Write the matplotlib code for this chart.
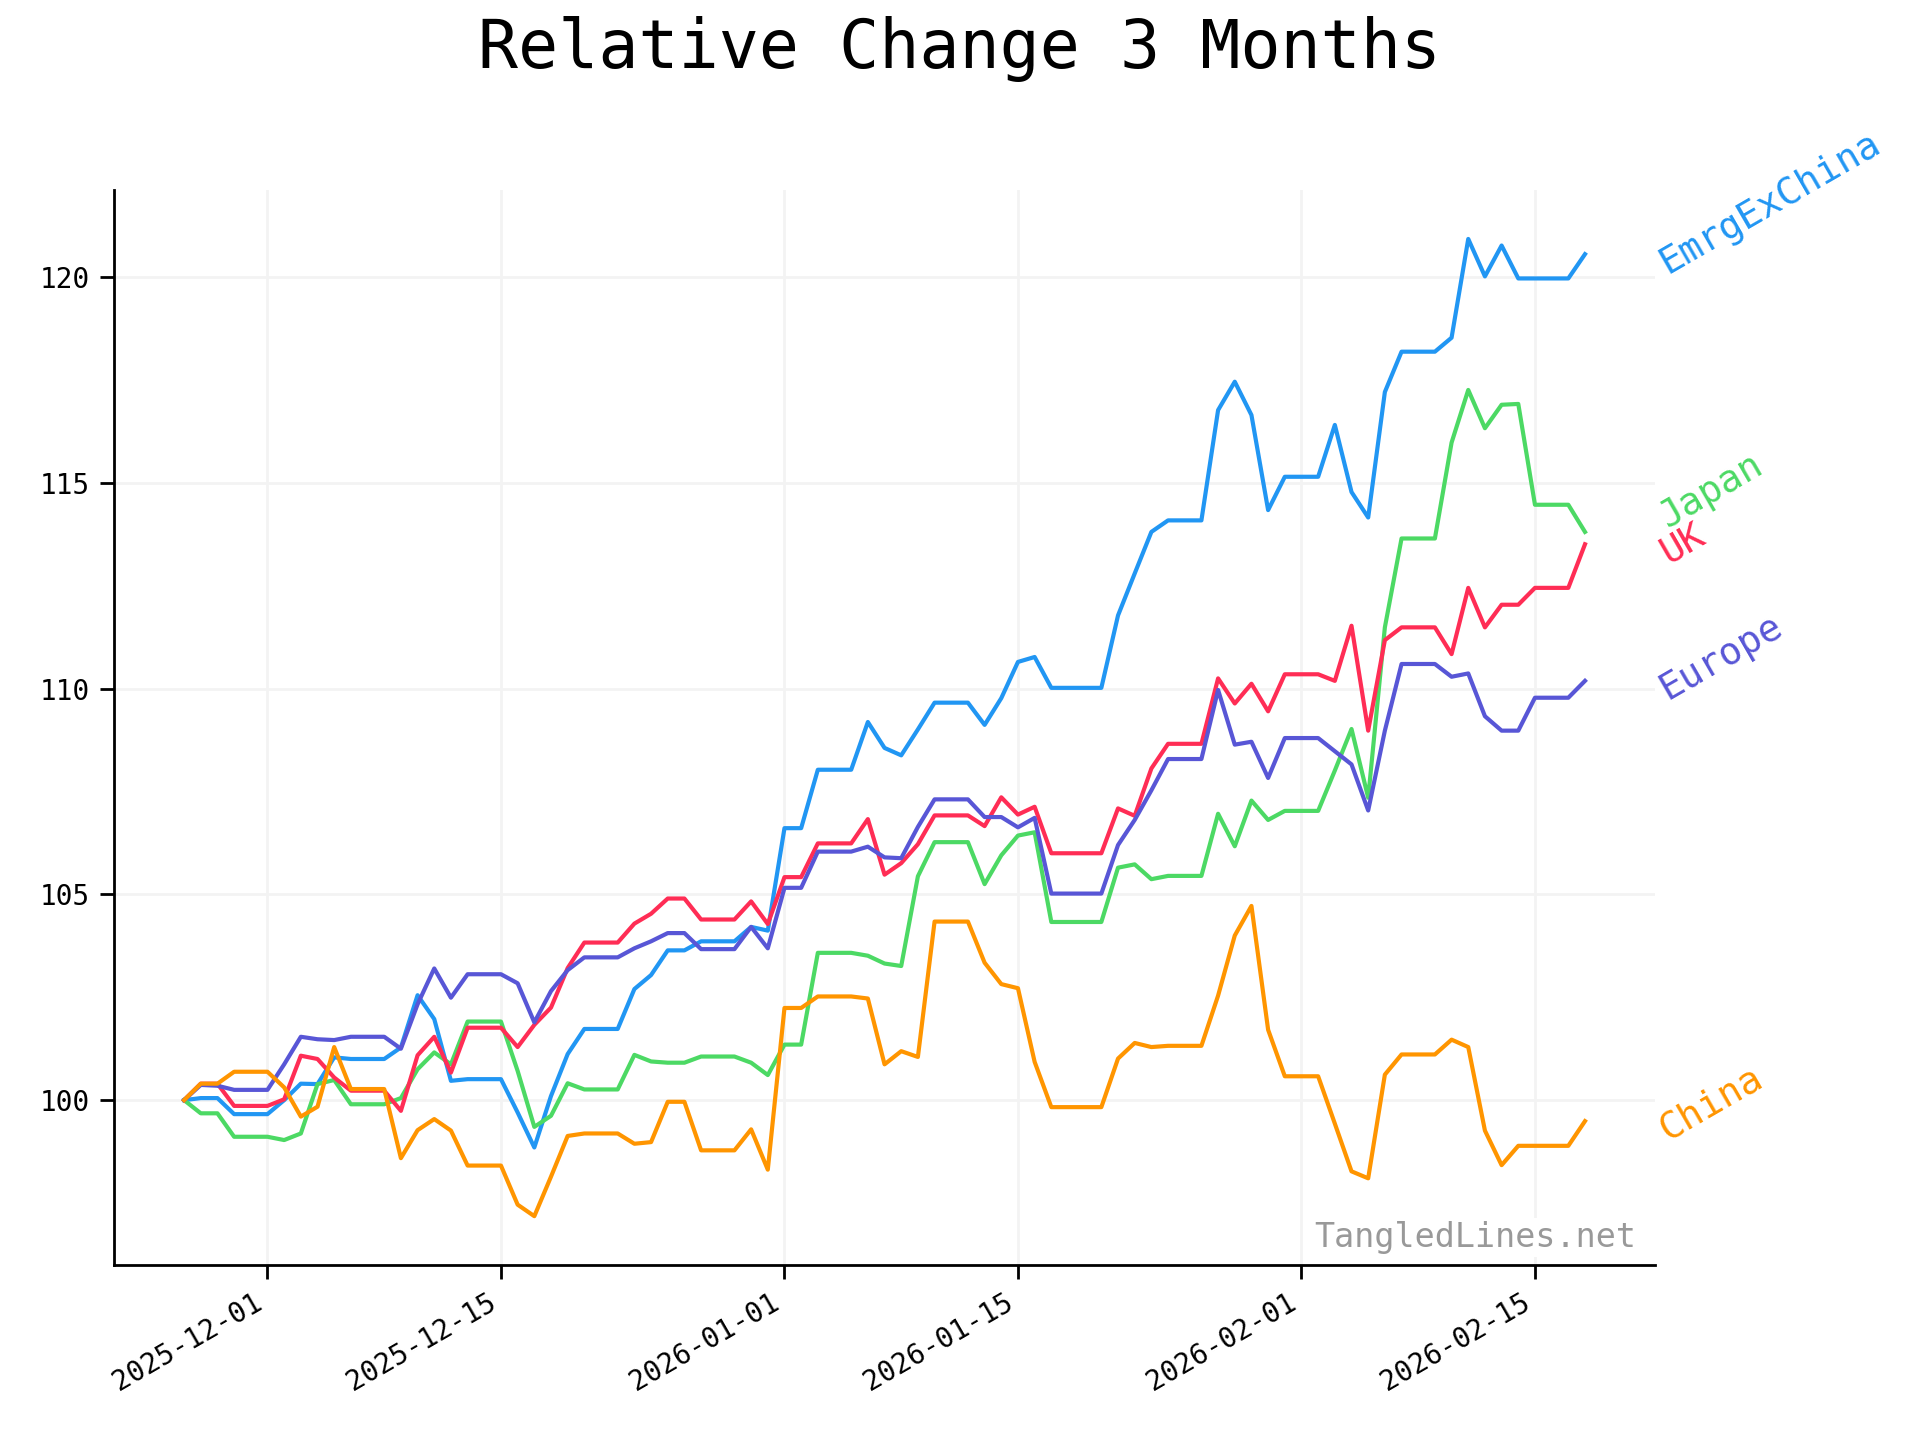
import numpy as np
import pandas as pd
import matplotlib
matplotlib.use("Agg")
import matplotlib.pyplot as plt
import matplotlib.dates as mdates
import matplotlib.transforms as mtransforms

plt.rcParams['font.family'] = ['DejaVu Sans Mono']

dates = pd.date_range('2025-11-26', '2026-02-18', freq='D')

emrg_ex_china = [100.0, 100.05, 100.05, 99.66, 99.66, 99.66, 100.0, 100.40, 100.39, 101.04,
                 101.0, 101.0, 101.0, 101.28, 102.55, 101.97, 100.47, 100.51, 100.51, 100.51,
                 99.70, 98.85, 100.1, 101.12, 101.73, 101.73, 101.73, 102.70, 103.04, 103.64,
                 103.64, 103.86, 103.86, 103.86, 104.21, 104.12, 106.61, 106.61, 108.03, 108.03,
                 108.03, 109.19, 108.56, 108.38, 109.01, 109.66, 109.66, 109.66, 109.12, 109.77,
                 110.65, 110.77, 110.02, 110.02, 110.02, 110.02, 111.78, 112.80, 113.81, 114.09,
                 114.09, 114.09, 116.77, 117.46, 116.65, 114.34, 115.15, 115.15, 115.15, 116.41,
                 114.78, 114.16, 117.21, 118.19, 118.19, 118.19, 118.53, 120.93, 120.02, 120.77,
                 119.97, 119.97, 119.97, 119.97, 120.56]

japan = [100.0, 99.68, 99.68, 99.11, 99.11, 99.11, 99.03, 99.19, 100.39, 100.49,
         99.90, 99.90, 99.90, 100.05, 100.75, 101.16, 100.87, 101.91, 101.91, 101.91,
         100.71, 99.35, 99.62, 100.41, 100.26, 100.26, 100.26, 101.10, 100.94, 100.91,
         100.91, 101.06, 101.06, 101.06, 100.91, 100.61, 101.35, 101.35, 103.58, 103.58,
         103.58, 103.51, 103.32, 103.26, 105.44, 106.27, 106.27, 106.27, 105.25, 105.95,
         106.43, 106.51, 104.33, 104.33, 104.33, 104.33, 105.65, 105.73, 105.37, 105.45,
         105.45, 105.45, 106.96, 106.17, 107.28, 106.81, 107.03, 107.03, 107.03, 108.01,
         109.02, 107.35, 111.49, 113.65, 113.65, 113.65, 115.98, 117.26, 116.33, 116.90,
         116.92, 114.47, 114.47, 114.47, 113.81]

uk = [100.0, 100.4, 100.4, 99.86, 99.86, 99.86, 100.02, 101.08, 101.0, 100.55,
      100.23, 100.23, 100.23, 99.74, 101.09, 101.54, 100.67, 101.76, 101.76, 101.76,
      101.29, 101.83, 102.25, 103.21, 103.83, 103.83, 103.83, 104.29, 104.53, 104.90,
      104.90, 104.39, 104.39, 104.39, 104.83, 104.28, 105.42, 105.42, 106.24, 106.24,
      106.24, 106.83, 105.48, 105.76, 106.22, 106.92, 106.92, 106.92, 106.66, 107.36,
      106.94, 107.13, 106.0, 106.0, 106.0, 106.0, 107.09, 106.91, 108.06, 108.66,
      108.66, 108.66, 110.25, 109.64, 110.12, 109.45, 110.35, 110.35, 110.35, 110.19,
      111.53, 108.98, 111.18, 111.49, 111.49, 111.49, 110.84, 112.45, 111.49, 112.04,
      112.04, 112.45, 112.45, 112.45, 113.51]

europe = [100.0, 100.37, 100.35, 100.25, 100.25, 100.25, 100.87, 101.54, 101.48, 101.46,
          101.54, 101.54, 101.54, 101.25, 102.33, 103.2, 102.49, 103.06, 103.06, 103.06,
          102.84, 101.89, 102.65, 103.16, 103.47, 103.47, 103.47, 103.69, 103.86, 104.06,
          104.06, 103.67, 103.67, 103.67, 104.21, 103.69, 105.16, 105.16, 106.04, 106.04,
          106.04, 106.16, 105.90, 105.88, 106.64, 107.31, 107.31, 107.31, 106.88, 106.88,
          106.63, 106.86, 105.02, 105.02, 105.02, 105.02, 106.2, 106.81, 107.53, 108.29,
          108.29, 108.29, 109.97, 108.64, 108.71, 107.83, 108.80, 108.80, 108.80, 108.48,
          108.16, 107.04, 108.98, 110.60, 110.60, 110.60, 110.29, 110.37, 109.33, 108.98,
          108.98, 109.78, 109.78, 109.78, 110.19]

china = [100.0, 100.4, 100.4, 100.69, 100.69, 100.69, 100.31, 99.6, 99.84, 101.29,
         100.27, 100.27, 100.27, 98.59, 99.27, 99.54, 99.26, 98.41, 98.41, 98.41,
         97.46, 97.18, 98.14, 99.13, 99.19, 99.19, 99.19, 98.94, 98.98, 99.96,
         99.96, 98.78, 98.78, 98.78, 99.29, 98.31, 102.24, 102.24, 102.52, 102.52,
         102.52, 102.47, 100.87, 101.19, 101.05, 104.34, 104.34, 104.34, 103.34, 102.82,
         102.72, 100.93, 99.83, 99.83, 99.83, 99.83, 101.01, 101.39, 101.29, 101.32,
         101.32, 101.32, 102.54, 104.0, 104.72, 101.71, 100.58, 100.58, 100.58, 99.43,
         98.27, 98.10, 100.62, 101.11, 101.11, 101.11, 101.47, 101.29, 99.26, 98.42,
         98.89, 98.89, 98.89, 98.89, 99.49]

series = [
    ("EmrgExChina", emrg_ex_china, '#2196f3'),
    ("Japan", japan, '#4cd964'),
    ("UK", uk, '#ff2d55'),
    ("Europe", europe, '#5856d6'),
    ("China", china, '#ff9500'),
]

fig = plt.figure(figsize=(9.6, 7.2), dpi=200)
ax = fig.add_axes([0.0594, 0.1215, 0.8026, 0.7465])

for name, vals, col in series:
    ax.plot(dates, vals, color=col, linewidth=1.5, label=name)

ax.grid(True, color='#f3f3f3', linewidth=1.0)
ax.set_axisbelow(True)
for side in ['top', 'right']:
    ax.spines[side].set_visible(False)
for side in ['left', 'bottom']:
    ax.spines[side].set_linewidth(1.0)

ax.xaxis.set_major_locator(mdates.DayLocator(bymonthday=[1, 15]))
ax.xaxis.set_major_formatter(mdates.DateFormatter('%Y-%m-%d'))
ax.tick_params(axis='both', labelsize=10, length=5, width=1.0)
for lbl in ax.get_xticklabels():
    lbl.set_rotation(30)
    lbl.set_ha('right')

# end labels, pushed apart when they crowd
order = sorted(series, key=lambda s: s[1][-1])
label_y = []
prev = None
for name, vals, col in order:
    y = vals[-1]
    if prev is not None and y < prev + 0.87:
        y = prev + 0.87
    label_y.append((name, y, col))
    prev = y

trans = mtransforms.blended_transform_factory(ax.transAxes, ax.transData)
for name, y, col in label_y:
    ax.annotate(name, xy=(1.0, y), xycoords=trans, xytext=(4.5, -7),
                textcoords='offset points', rotation=30, rotation_mode='anchor',
                ha='left', va='baseline', color=col, fontsize=13.5,
                annotation_clip=False)

ax.text(0.988, 0.0167, "TangledLines.net", transform=ax.transAxes, ha='right',
        va='baseline', fontsize=12, color='#999999', zorder=5,
        bbox=dict(facecolor='white', edgecolor='none', pad=1))

fig.text(0.5, 0.953, "Relative Change 3 Months", ha='center', va='baseline',
         fontsize=24)

fig.savefig('out.png', dpi=200)
